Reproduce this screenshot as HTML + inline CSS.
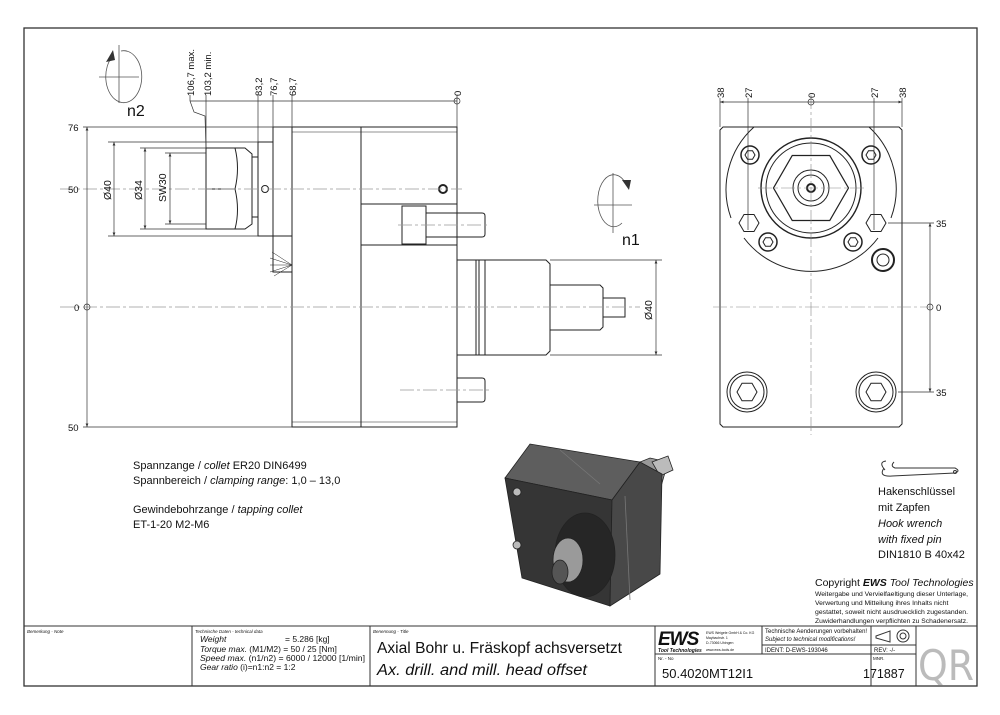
<!DOCTYPE html>
<html><head><meta charset="utf-8"><style>
html,body{margin:0;padding:0;background:#fff;}
svg{display:block;}
text{font-family:"Liberation Sans",sans-serif;fill:#111;}
.n{font-family:"DejaVu Sans Condensed","DejaVu Sans","Liberation Sans",sans-serif;}
</style></head><body>
<svg width="1000" height="715" viewBox="0 0 1000 715" xmlns="http://www.w3.org/2000/svg">
<defs>
<marker id="a" markerWidth="6" markerHeight="6" refX="5" refY="3" orient="auto-start-reverse"><path d="M0,1 L5,3 L0,5z" fill="#333"/></marker>
</defs>
<rect x="24" y="28" width="953" height="658" fill="none" stroke="#333" stroke-width="1.3"/>
<g stroke="#333" stroke-width="1" fill="none">
<line x1="24" y1="626" x2="977" y2="626"/>
<line x1="192" y1="626" x2="192" y2="686"/>
<line x1="370" y1="626" x2="370" y2="686"/>
<line x1="655" y1="626" x2="655" y2="686"/>
<line x1="762" y1="626" x2="762" y2="654"/>
<line x1="871" y1="626" x2="871" y2="686"/>
<line x1="916" y1="626" x2="916" y2="686"/>
<line x1="762" y1="645" x2="916" y2="645"/>
<line x1="655" y1="654" x2="916" y2="654"/>
</g>
<g class="n">
<text x="27" y="633" font-size="4.5" font-style="italic">Bemerkung - Note</text>
<text x="195" y="633" font-size="4.5" font-style="italic">Technische Daten - technical data</text>
<text x="200" y="642" font-size="8.5" font-style="italic">Weight</text><text x="285" y="642" font-size="8.5">=  5.286 [kg]</text>
<text x="200" y="652" font-size="8.5"><tspan font-style="italic">Torque max.</tspan> (M1/M2) = 50 / 25 [Nm]</text>
<text x="200" y="661" font-size="8.5" textLength="165" lengthAdjust="spacingAndGlyphs"><tspan font-style="italic">Speed max.</tspan> (n1/n2) = 6000 / 12000 [1/min]</text>
<text x="200" y="670" font-size="8.5"><tspan font-style="italic">Gear ratio</tspan>  (i)=n1:n2 = 1:2</text>
<text x="373" y="633" font-size="4.5" font-style="italic">Benennung - Title</text>
<text x="377" y="653" font-size="15.5" textLength="245" lengthAdjust="spacingAndGlyphs">Axial Bohr u. Fräskopf achsversetzt</text>
<text x="377" y="675" font-size="15.5" font-style="italic" textLength="210" lengthAdjust="spacingAndGlyphs">Ax. drill. and mill. head offset</text>
<text x="658" y="660" font-size="4.5">Nr. - No</text>
<text x="662" y="678" font-size="13">50.4020MT12I1</text>
<text x="873" y="660" font-size="4.5">MNR.</text>
<text x="863" y="678" font-size="12.5">171887</text>
<text x="765" y="633" font-size="6">Technische Aenderungen vorbehalten!</text>
<text x="765" y="641" font-size="6" font-style="italic">Subject to technical modifications!</text>
<text x="765" y="652" font-size="6">IDENT:  D-EWS-193046</text>
<text x="874" y="652" font-size="6">REV:  -/-</text>
</g>
<text x="658" y="645" font-size="19" font-weight="bold" font-style="italic" letter-spacing="-1">EWS</text>
<text x="658" y="652" font-size="5" font-weight="bold" font-style="italic">Tool Technologies</text>
<text x="706" y="634" font-size="3.5">EWS Weigele GmbH &amp; Co. KG</text>
<text x="706" y="639" font-size="3.5">Maybachstr. 1</text>
<text x="706" y="644" font-size="3.5">D-73066 Uhingen</text>
<text x="706" y="651" font-size="3.5">www.ews-tools.de</text>
<g stroke="#333" fill="none" stroke-width="1"><path d="M876,636 L890,631 L890,642 L876,638z"/><circle cx="903" cy="636" r="6"/><circle cx="903" cy="636" r="3"/></g>
<text x="918" y="680" font-size="42" style="fill:#bbb" class="n">QR</text>

<!-- LEFT VIEW -->
<g stroke="#222" stroke-width="1" fill="none">
<rect x="292" y="127" width="165" height="300"/>
<line x1="292" y1="132" x2="457" y2="132" stroke-width=".6"/>
<line x1="292" y1="422" x2="457" y2="422" stroke-width=".6"/>
<line x1="361" y1="127" x2="361" y2="427"/>
<rect x="273" y="127" width="19" height="109"/>
<rect x="273" y="236" width="19" height="36"/>
<rect x="258" y="142" width="15" height="94"/>
<circle cx="265" cy="189" r="3.5"/>
<rect x="252" y="157" width="6" height="60"/>
<path d="M206,148 L245,148 L252,154 L252,224 L245,229 L206,229z"/>
<line x1="206" y1="189" x2="235" y2="189"/>
<path d="M235,148 Q240,168 235,189 Q240,210 235,229"/>
<rect x="361" y="204" width="96" height="41"/>
<rect x="402" y="206" width="24" height="38"/>
<path d="M426,213 L482,213 Q485,213 485,216 L485,234 Q485,237 482,237 L426,237"/>
<path d="M457,378 L482,378 Q485,378 485,381 L485,399 Q485,402 482,402 L457,402"/>
<rect x="457" y="260" width="19" height="95"/>
<rect x="476" y="260" width="9" height="95"/>
<line x1="479" y1="260" x2="479" y2="355"/>
<path d="M485,260 L546,260 L550,264 L550,351 L546,355 L485,355"/>
<path d="M550,285 L600,285 L603,288 L603,327 L600,330 L550,330"/>
<path d="M603,298 L625,298 L625,317 L603,317"/>
<circle cx="443" cy="189" r="4" stroke-width="2"/>
<path d="M292,265 L272,252 M292,265 L270,258 M292,265 L270,265 M292,265 L270,272 M292,265 L274,276" stroke-width=".5"/>
</g>
<g stroke="#999" stroke-width=".7" stroke-dasharray="14,3,3,3" fill="none">
<line x1="60" y1="189" x2="462" y2="189"/>
<line x1="60" y1="307" x2="640" y2="307"/>
<line x1="398" y1="225" x2="490" y2="225"/>
<line x1="400" y1="390" x2="490" y2="390"/>
</g>
<g stroke="#333" stroke-width=".7" fill="none">
<line x1="83" y1="127" x2="292" y2="127"/>
<line x1="83" y1="427" x2="292" y2="427"/>
<line x1="87" y1="127" x2="87" y2="427" marker-start="url(#a)" marker-end="url(#a)"/>
<line x1="108" y1="142" x2="258" y2="142"/><line x1="108" y1="236" x2="258" y2="236"/>
<line x1="114" y1="142" x2="114" y2="236" marker-start="url(#a)" marker-end="url(#a)"/>
<line x1="140" y1="148" x2="206" y2="148"/><line x1="140" y1="229" x2="206" y2="229"/>
<line x1="145" y1="148" x2="145" y2="229" marker-start="url(#a)" marker-end="url(#a)"/>
<line x1="165" y1="153" x2="206" y2="153"/><line x1="165" y1="224" x2="206" y2="224"/>
<line x1="170" y1="153" x2="170" y2="224" marker-start="url(#a)" marker-end="url(#a)"/>
<line x1="190" y1="101" x2="457" y2="101"/>
<path d="M190,101 L190,95 M206,95 L206,148 M258,95 L258,142 M273,95 L273,127 M292,95 L292,127 M457,95 L457,127"/>
<path d="M190,101 L194,112 L205,116 L206,148"/>
<line x1="656" y1="260" x2="656" y2="355" marker-start="url(#a)" marker-end="url(#a)"/>
<line x1="550" y1="260" x2="662" y2="260"/><line x1="550" y1="355" x2="662" y2="355"/>
<circle cx="87" cy="307" r="3"/><circle cx="457" cy="101" r="3"/>
</g>
<g class="n" font-size="9.5">
<text x="68" y="131">76</text><text x="68" y="193">50</text><text x="74" y="311">0</text><text x="68" y="431">50</text>
<text transform="translate(111,200) rotate(-90)" font-size="10.5">Ø40</text>
<text transform="translate(142,200) rotate(-90)" font-size="10.5">Ø34</text>
<text transform="translate(166,202) rotate(-90)" font-size="10.5">SW30</text>
<text transform="translate(194,96) rotate(-90)">106,7 max.</text>
<text transform="translate(211,96) rotate(-90)">103,2 min.</text>
<text transform="translate(262,96) rotate(-90)">83,2</text>
<text transform="translate(277,96) rotate(-90)">76,7</text>
<text transform="translate(296,96) rotate(-90)">68,7</text>
<text transform="translate(461,96) rotate(-90)">0</text>
<text transform="translate(652,320) rotate(-90)" font-size="10.5">Ø40</text>
</g>
<g stroke="#555" stroke-width=".8" fill="none">
<line x1="99" y1="77" x2="139" y2="77"/><line x1="119" y1="45" x2="119" y2="103"/>
<path d="M112,57 A18,26 0 1 0 121,51"/>
<line x1="594" y1="205" x2="632" y2="205"/><line x1="613" y1="173" x2="613" y2="233"/>
<path d="M626,184 A16,26 0 1 0 622,223"/>
</g>
<path d="M106,62 L113,50 L115,60z" fill="#333"/>
<path d="M622,180 L629,190 L631,180z" fill="#333"/>
<text x="127" y="116" font-size="16">n2</text>
<text x="622" y="245" font-size="16">n1</text>

<!-- RIGHT VIEW -->
<g stroke="#222" stroke-width="1" fill="none">
<path d="M723,127 L899,127 L902,130 L902,424 L899,427 L723,427 L720,424 L720,130z"/>
<path d="M754,127 A84,84 0 0 0 731,218 M869,127 A84,84 0 0 1 891,218 M744,238 A84,84 0 0 0 878,238"/>
<circle cx="811" cy="188" r="50" stroke-width="1.4"/>
<circle cx="811" cy="188" r="45"/>
<path d="M841,188 L826,214 L796,214 L781,188 L796,162 L826,162z" transform="translate(811 188) scale(1.25) translate(-811 -188)"/>
<circle cx="811" cy="188" r="18"/><circle cx="811" cy="188" r="13"/>
<circle cx="811" cy="188" r="4" stroke-width="2"/>
<g stroke-width="1.5"><circle cx="750" cy="155" r="9"/><circle cx="871" cy="155" r="9"/><circle cx="768" cy="242" r="9"/><circle cx="853" cy="242" r="9"/></g>
<path d="M755,155 l-2.5,4.3 h-5 l-2.5,-4.3 l2.5,-4.3 h5z M876,155 l-2.5,4.3 h-5 l-2.5,-4.3 l2.5,-4.3 h5z M773,242 l-2.5,4.3 h-5 l-2.5,-4.3 l2.5,-4.3 h5z M858,242 l-2.5,4.3 h-5 l-2.5,-4.3 l2.5,-4.3 h5z"/>
<path d="M759,223 l-5,8.5 h-10 l-5,-8.5 l5,-8.5 h10z M886,223 l-5,8.5 h-10 l-5,-8.5 l5,-8.5 h10z"/>
<circle cx="747" cy="392" r="20"/><circle cx="747" cy="392" r="17"/>
<circle cx="876" cy="392" r="20"/><circle cx="876" cy="392" r="17"/>
<path d="M757,392 l-5,8.7 h-10 l-5,-8.7 l5,-8.7 h10z M886,392 l-5,8.7 h-10 l-5,-8.7 l5,-8.7 h10z"/>
<circle cx="883" cy="260" r="11" stroke-width="2"/><circle cx="883" cy="260" r="6"/>
</g>
<g stroke="#888" stroke-width=".6" fill="none" stroke-dasharray="14,3,3,3">
<line x1="713" y1="307" x2="930" y2="307"/>
<line x1="811" y1="95" x2="811" y2="435"/>
<line x1="758" y1="188" x2="864" y2="188"/>
</g>
<g stroke="#333" stroke-width=".7" fill="none">
<line x1="720" y1="102" x2="902" y2="102" marker-start="url(#a)" marker-end="url(#a)"/>
<path d="M720,98 V127 M748,98 V230 M874,98 V230 M902,98 V127"/>
<line x1="930" y1="223" x2="930" y2="392" marker-start="url(#a)" marker-end="url(#a)"/>
<path d="M888,223 H934 M898,392 H934"/>
<circle cx="811" cy="102" r="3"/><circle cx="930" cy="307" r="3"/>
</g>
<g class="n" font-size="9.5">
<text transform="translate(724,98) rotate(-90)">38</text>
<text transform="translate(752,98) rotate(-90)">27</text>
<text transform="translate(815,98) rotate(-90)">0</text>
<text transform="translate(878,98) rotate(-90)">27</text>
<text transform="translate(906,98) rotate(-90)">38</text>
<text x="936" y="227">35</text><text x="936" y="311">0</text><text x="936" y="396">35</text>
</g>

<g class="n" font-size="11">
<text x="133" y="469">Spannzange / <tspan font-style="italic">collet</tspan>   ER20   DIN6499</text>
<text x="133" y="484">Spannbereich / <tspan font-style="italic">clamping range</tspan>: 1,0 – 13,0</text>
<text x="133" y="513">Gewindebohrzange / <tspan font-style="italic">tapping collet</tspan></text>
<text x="133" y="528">ET-1-20   M2-M6</text>
</g>

<!-- 3D picture -->
<g stroke="#222" stroke-width=".8">
<path d="M620,470 L650,458 L668,462 L660,490 L630,495z" fill="#999"/>
<path d="M652,462 L668,456 L673,470 L660,476z" fill="#bbb"/>
<path d="M505,478 L530,444 L640,462 L612,500z" fill="#5e5e5e"/>
<path d="M505,478 L612,500 L610,606 L522,578z" fill="#353535"/>
<path d="M612,500 L640,462 L662,474 L660,574 L610,606z" fill="#484848"/>
<line x1="560" y1="450" x2="600" y2="484" stroke="#777"/>
<line x1="625" y1="496" x2="630" y2="600" stroke="#777"/>
<ellipse cx="585" cy="555" rx="30" ry="42" fill="#262626"/>
<ellipse cx="568" cy="560" rx="15" ry="22" fill="#9a9a9a"/>
<ellipse cx="560" cy="572" rx="8" ry="12" fill="#555"/>
<circle cx="517" cy="492" r="4" fill="#bbb"/><circle cx="517" cy="545" r="4" fill="#bbb"/>
</g>

<path d="M885,470 Q878,462 886,461 M884,468 Q878,477 892,476 L955,473 Q961,471 955,468 L895,468 Q890,466 894,462" fill="none" stroke="#333" stroke-width="1"/>
<circle cx="955" cy="472" r="1.5" fill="none" stroke="#333"/>
<g class="n" font-size="11">
<text x="878" y="495">Hakenschlüssel</text>
<text x="878" y="511">mit Zapfen</text>
<text x="878" y="527" font-style="italic">Hook wrench</text>
<text x="878" y="543" font-style="italic">with fixed pin</text>
<text x="878" y="558">DIN1810 B 40x42</text>
</g>
<text x="815" y="586" font-size="10.5">Copyright <tspan font-weight="bold" font-style="italic">EWS</tspan> <tspan font-style="italic">Tool Technologies</tspan></text>
<g font-size="6.8">
<text x="815" y="596" textLength="153" lengthAdjust="spacingAndGlyphs">Weitergabe und Vervielfaeltigung dieser Unterlage,</text>
<text x="815" y="605">Verwertung und Mitteilung ihres Inhalts nicht</text>
<text x="815" y="614" textLength="153" lengthAdjust="spacingAndGlyphs">gestattet, soweit nicht ausdruecklich zugestanden.</text>
<text x="815" y="623" textLength="153" lengthAdjust="spacingAndGlyphs">Zuwiderhandlungen verpflichten zu Schadenersatz.</text>
</g>
</svg>
</body></html>
